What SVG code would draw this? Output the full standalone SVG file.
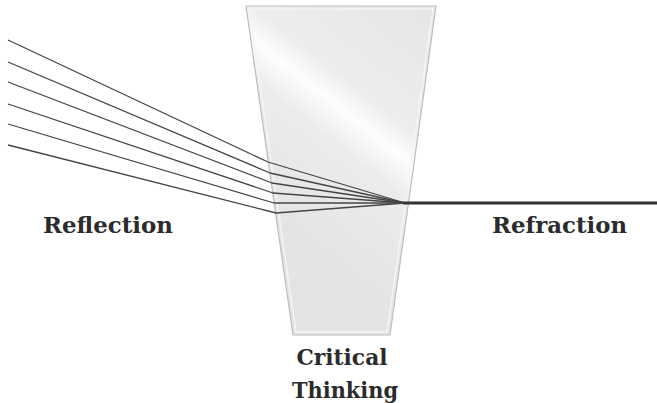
<svg xmlns="http://www.w3.org/2000/svg" width="657" height="403" viewBox="0 0 657 403">
  <style>
    .ray { fill: none; stroke: #444; stroke-width: 1.3; stroke-linejoin: round; }
    .beam { fill: none; stroke: #333; stroke-width: 3; }
    .label { font-family: "DejaVu Serif", "Liberation Serif", serif; font-weight: bold; font-size: 23px; fill: #2b2b2b; }
  </style>
  <defs>
    <linearGradient id="glass" gradientUnits="userSpaceOnUse" x1="263" y1="212" x2="423" y2="8">
      <stop offset="0" stop-color="#e4e4e4"/>
      <stop offset="0.38" stop-color="#ececec"/>
      <stop offset="0.5" stop-color="#fdfdfd"/>
      <stop offset="0.6" stop-color="#ededed"/>
      <stop offset="1" stop-color="#e6e6e6"/>
    </linearGradient>
  </defs>
  <rect width="657" height="403" fill="#ffffff"/>
  <g id="prism">
    <polygon points="246,6 436,6 390,335 293,335" fill="url(#glass)" stroke="#bdbdbd" stroke-width="1.2"/>
    <polygon points="249,9 433,9 387,332 296,332" fill="none" stroke="#f4f4f4" stroke-width="1.5"/>
  </g>
  <g id="connectors">
    <polyline class="ray" points="8,40 268,162 405,203"/>
    <polyline class="ray" points="8,62 270,173 405,203"/>
    <polyline class="ray" points="8,82 272,183 405,203"/>
    <polyline class="ray" points="8,104 273,193 405,203"/>
    <polyline class="ray" points="8,124 274,203 405,203"/>
    <polyline class="ray" points="8,145 276,213 405,203"/>
    <line class="beam" x1="403" y1="203" x2="657" y2="203"/>
  </g>
  <g id="reflection">
    <text class="label" x="43" y="233" textLength="130" lengthAdjust="spacingAndGlyphs">Reflection</text>
  </g>
  <g id="refraction">
    <text class="label" x="492" y="233" textLength="135" lengthAdjust="spacingAndGlyphs">Refraction</text>
  </g>
  <g id="critical-thinking">
    <text class="label" x="342" y="365" text-anchor="middle" textLength="91" lengthAdjust="spacingAndGlyphs">Critical</text>
    <text class="label" x="345" y="398" text-anchor="middle" textLength="106" lengthAdjust="spacingAndGlyphs">Thinking</text>
  </g>
</svg>
